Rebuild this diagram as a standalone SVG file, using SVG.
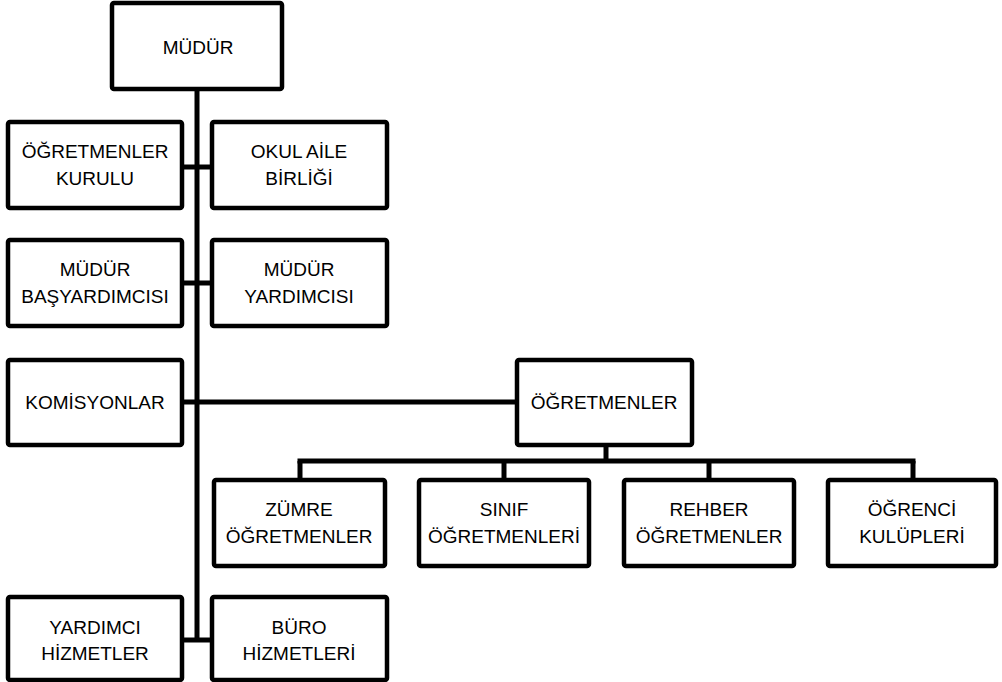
<svg xmlns="http://www.w3.org/2000/svg" width="1002" height="682" viewBox="0 0 1002 682">
<style>
.box{fill:#fff;stroke:#000;stroke-width:4.5}
.lbl{font-family:"Liberation Sans",Arial,sans-serif;font-size:19px;fill:#000;text-anchor:middle}
.con{stroke:#000;stroke-width:5;fill:none}
</style>
<rect width="1002" height="682" fill="#fff"/>
<g id="connectors">
<line class="con" x1="197" y1="89" x2="197" y2="642"/>
<line class="con" x1="182" y1="167" x2="212" y2="167"/>
<line class="con" x1="182" y1="283" x2="212" y2="283"/>
<line class="con" x1="182" y1="402" x2="517" y2="402"/>
<line class="con" x1="182" y1="640" x2="212" y2="640"/>
<line class="con" x1="606" y1="445" x2="606" y2="461"/>
<line class="con" x1="297.5" y1="461" x2="915.5" y2="461"/>
<line class="con" x1="300" y1="461" x2="300" y2="480"/>
<line class="con" x1="504" y1="461" x2="504" y2="480"/>
<line class="con" x1="709" y1="461" x2="709" y2="480"/>
<line class="con" x1="913" y1="461" x2="913" y2="480"/>
</g>
<g id="mudur"><rect class="box" x="112" y="3" width="170" height="86" rx="2"/><text class="lbl" x="198" y="54">MÜDÜR</text></g>
<g id="ogretmenler-kurulu"><rect class="box" x="8" y="122" width="174" height="86" rx="2"/><text class="lbl" x="95" y="158">ÖĞRETMENLER</text><text class="lbl" x="95" y="185">KURULU</text></g>
<g id="okul-aile-birligi"><rect class="box" x="212" y="122" width="175" height="86" rx="2"/><text class="lbl" x="299" y="158">OKUL AİLE</text><text class="lbl" x="299" y="185">BİRLİĞİ</text></g>
<g id="mudur-basyardimcisi"><rect class="box" x="8" y="240" width="174" height="86" rx="2"/><text class="lbl" x="95" y="276">MÜDÜR</text><text class="lbl" x="95" y="303">BAŞYARDIMCISI</text></g>
<g id="mudur-yardimcisi"><rect class="box" x="212" y="240" width="175" height="86" rx="2"/><text class="lbl" x="299" y="276">MÜDÜR</text><text class="lbl" x="299" y="303">YARDIMCISI</text></g>
<g id="komisyonlar"><rect class="box" x="8" y="360" width="174" height="85" rx="2"/><text class="lbl" x="95" y="409">KOMİSYONLAR</text></g>
<g id="ogretmenler"><rect class="box" x="517" y="360" width="175" height="85" rx="2"/><text class="lbl" x="604" y="409">ÖĞRETMENLER</text></g>
<g id="zumre"><rect class="box" x="214" y="480" width="171" height="86" rx="2"/><text class="lbl" x="299" y="516">ZÜMRE</text><text class="lbl" x="299" y="543">ÖĞRETMENLER</text></g>
<g id="sinif"><rect class="box" x="419" y="480" width="170" height="86" rx="2"/><text class="lbl" x="504" y="516">SINIF</text><text class="lbl" x="504" y="543">ÖĞRETMENLERİ</text></g>
<g id="rehber"><rect class="box" x="624" y="480" width="170" height="86" rx="2"/><text class="lbl" x="709" y="516">REHBER</text><text class="lbl" x="709" y="543">ÖĞRETMENLER</text></g>
<g id="ogrenci-kulupleri"><rect class="box" x="828" y="480" width="168" height="86" rx="2"/><text class="lbl" x="912" y="516">ÖĞRENCİ</text><text class="lbl" x="912" y="543">KULÜPLERİ</text></g>
<g id="yardimci-hizmetler"><rect class="box" x="8" y="597" width="174" height="83" rx="2"/><text class="lbl" x="95" y="634">YARDIMCI</text><text class="lbl" x="95" y="660">HİZMETLER</text></g>
<g id="buro-hizmetleri"><rect class="box" x="212" y="597" width="175" height="83" rx="2"/><text class="lbl" x="299" y="634">BÜRO</text><text class="lbl" x="299" y="660">HİZMETLERİ</text></g>
</svg>
